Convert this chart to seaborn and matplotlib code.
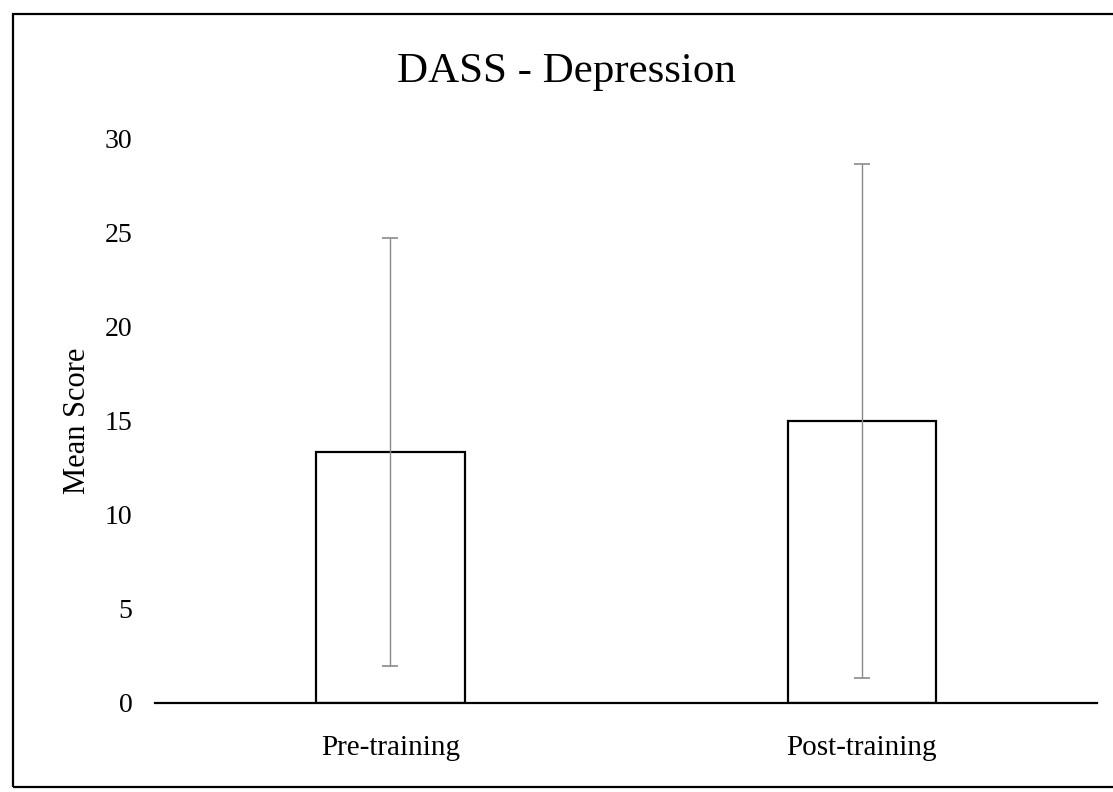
import matplotlib
matplotlib.use("Agg")
import matplotlib.pyplot as plt
import seaborn as sns
import pandas as pd
from matplotlib.patches import Rectangle

categories = ["Pre-training", "Post-training"]
means = [13.35, 15.0]
sds = [11.4, 13.65]
yticks = [0, 5, 10, 15, 20, 25, 30]

sns.set_theme(style="white")
plt.rcParams['font.family'] = ['Liberation Serif', 'DejaVu Serif']

df = pd.DataFrame({"cond": categories, "score": means})

fig = plt.figure(figsize=(11.13, 7.92), dpi=100)
ax = fig.add_axes([0.139, 0.1124, 0.847, 0.7121])

sns.barplot(data=df, x="cond", y="score", ax=ax, color="white",
            edgecolor="black", linewidth=1.6, width=0.315, errorbar=None)
ax.errorbar(range(len(categories)), means, yerr=sds, fmt="none",
            ecolor="#8a8a8a", elinewidth=1.0, capsize=6, capthick=1.2)

ax.set_xlim(-0.5, 1.5)
ax.set_ylim(0, 30)
ax.set_yticks(yticks)
ax.set_yticklabels([str(t) for t in yticks], fontsize=20, color="black")
ax.tick_params(axis="y", length=0, pad=16)
ax.tick_params(axis="x", length=0, pad=23, labelsize=21, labelcolor="black")
ax.set_xlabel("")
ax.set_ylabel("Mean Score", fontsize=22, labelpad=9, color="black")
fig.text(0.509, 0.909, "DASS - Depression", fontsize=31, ha="center",
         va="center", color="black")

for s in ["top", "right", "left"]:
    ax.spines[s].set_visible(False)
ax.spines["bottom"].set_color("black")
ax.spines["bottom"].set_linewidth(1.6)

fig.patches.append(Rectangle((0.012, 0.006), 1.2, 0.976, transform=fig.transFigure,
                             fill=False, edgecolor="black", linewidth=1.6))

fig.savefig("out.png", dpi=100)
